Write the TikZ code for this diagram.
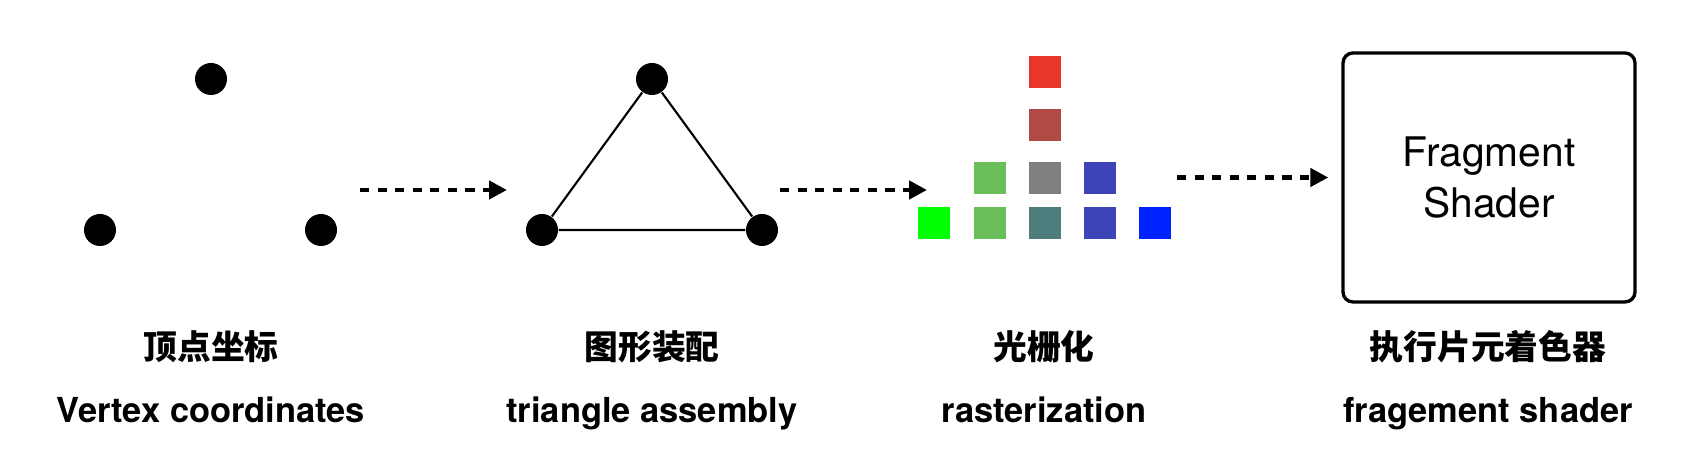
\documentclass[tikz,border=0pt]{standalone}
\usepackage{fontspec}
\setmainfont{TeX Gyre Heros}
\newfontfamily\cjk{Noto Sans CJK SC}
\usetikzlibrary{arrows.meta}
\definecolor{pxred}{HTML}{E8372A}
\definecolor{pxbrown}{HTML}{B04A44}
\definecolor{pxgreen}{HTML}{6ABE5A}
\definecolor{pxgray}{HTML}{808080}
\definecolor{pxblue}{HTML}{3D44B8}
\definecolor{pxlime}{HTML}{00FF00}
\definecolor{pxteal}{HTML}{4E7D7E}
\definecolor{pxdeep}{HTML}{0022FF}

\begin{document}
\begin{tikzpicture}[
    dot/.style={circle, fill=black, inner sep=0pt, minimum size=0.32cm},
    pix/.style={fill=#1, inner sep=0pt, minimum size=0.32cm},
    flow/.style={-{Triangle[length=0.18cm,width=0.18cm]}, line width=1.25pt, dash pattern=on 2.6pt off 2.4pt},
    zh/.style={font=\cjk\bfseries\fontsize{9.6}{11}\selectfont},
    en/.style={font=\bfseries\fontsize{9.8}{12}\selectfont, anchor=base}
]
    \useasboundingbox (0,0) rectangle (16.94,4.74);
    % vertex coordinates
    \node[dot] (V1) at (2.11,3.95) {};
    \node[dot] (V2) at (1.00,2.44) {};
    \node[dot] (V3) at (3.21,2.44) {};
    % triangle assembly
    \node[dot] (T1) at (6.52,3.95) {};
    \node[dot] (T2) at (5.42,2.44) {};
    \node[dot] (T3) at (7.62,2.44) {};
    \draw[line width=0.6pt] (T1) -- (T2) -- (T3) -- (T1);
    % rasterization
    \node[pix=pxred]   (R1) at (10.45,4.015) {};
    \node[pix=pxbrown] (R2) at (10.45,3.49) {};
    \node[pix=pxgreen] (R3) at (9.895,2.96) {};
    \node[pix=pxgray]  (R4) at (10.45,2.96) {};
    \node[pix=pxblue]  (R5) at (11.00,2.96) {};
    \node[pix=pxlime]  (R6) at (9.34,2.505) {};
    \node[pix=pxgreen] (R7) at (9.895,2.505) {};
    \node[pix=pxteal]  (R8) at (10.45,2.505) {};
    \node[pix=pxblue]  (R9) at (11.00,2.505) {};
    \node[pix=pxdeep]  (R10) at (11.55,2.505) {};
    % fragment shader
    \node[draw, line width=0.95pt, rounded corners=0.1cm, minimum width=2.92cm, minimum height=2.49cm,
        align=center, font=\fontsize{11.6}{14.5}\selectfont] (FS) at (14.89,2.965) {Fragment\\Shader};
    % arrows
    \coordinate (A1) at (3.60,2.84);
    \coordinate (B1) at (5.07,2.84);
    \coordinate (A2) at (7.80,2.84);
    \coordinate (B2) at (9.27,2.84);
    \coordinate (A3) at (11.77,2.965);
    \draw[flow] (A1) -- (B1);
    \draw[flow] (A2) -- (B2);
    \draw[flow, shorten >=0.13cm] (A3) -- (FS.west);
    % labels
    \node[zh] (L1) at (2.11,1.27) {顶点坐标};
    \node[zh] (L2) at (6.52,1.27) {图形装配};
    \node[zh] (L3) at (10.44,1.27) {光栅化};
    \node[zh] (L4) at (14.88,1.27) {执行片元着色器};
    \node[en] (E1) at (2.11,0.51) {Vertex coordinates};
    \node[en] (E2) at (6.52,0.51) {triangle assembly};
    \node[en] (E3) at (10.44,0.51) {rasterization};
    \node[en] (E4) at (14.88,0.51) {fragement shader};
\end{tikzpicture}
\end{document}
